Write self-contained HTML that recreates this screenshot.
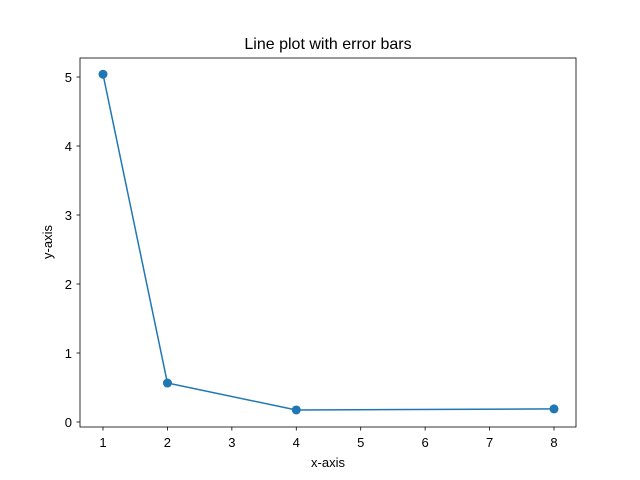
<!DOCTYPE html>
<html><head><meta charset="utf-8"><style>
body{margin:0;background:#fff;}
svg{display:block;font-family:"Liberation Sans","DejaVu Sans",sans-serif;}
</style></head><body>
<svg id="chart" width="640" height="480" xmlns="http://www.w3.org/2000/svg">
<rect width="640" height="480" fill="#fff"/>
<text x="328" y="49" text-anchor="middle" font-size="16">Line plot with error bars</text>
<g id="axes"></g>
<rect x="80" y="58" width="496" height="369" fill="none" stroke="#000" stroke-width="0.8"/>
<text x="328" y="467" text-anchor="middle" font-size="13">x-axis</text>
<text x="0" y="0" transform="translate(52,242) rotate(-90)" text-anchor="middle" font-size="13">y-axis</text>
</svg>
<script>
const xValues = [1, 2, 4, 8];
const yValues = [5.04, 0.565, 0.174, 0.19];
const xTicks = [1, 2, 3, 4, 5, 6, 7, 8];
const yTicks = [0, 1, 2, 3, 4, 5];

const NS = "http://www.w3.org/2000/svg";
const g = document.getElementById("axes");
const xs = v => 103 + (v - 1) * (451 / 7);
const ys = v => 422 - v * 69;
function mk(tag, attrs) {
  const e = document.createElementNS(NS, tag);
  for (const k in attrs) e.setAttribute(k, attrs[k]);
  g.appendChild(e);
  return e;
}
xTicks.forEach(t => {
  const l = mk("line", {x1: xs(t), x2: xs(t), y1: 427, y2: 430.5, stroke: "#000", "stroke-width": 0.8});
  
  
  const tx = mk("text", {x: xs(t), y: 447, "text-anchor": "middle", "font-size": 13});
  tx.textContent = t;
  
  
});
yTicks.forEach(t => {
  const l = mk("line", {x1: 76.5, x2: 80, y1: ys(t), y2: ys(t), stroke: "#000", "stroke-width": 0.8});
  
  
  const tx = mk("text", {x: 72, y: ys(t) + 5, "text-anchor": "end", "font-size": 13});
  tx.textContent = t;
  
  
});
const pts = xValues.map((x, i) => xs(x) + "," + ys(yValues[i])).join(" ");
const line = mk("polyline", {points: pts, fill: "none", stroke: "#1f77b4", "stroke-width": 1.5});


xValues.forEach((x, i) => {
  const c = mk("circle", {cx: xs(x), cy: ys(yValues[i]), r: 4.5, fill: "#1f77b4"});
  
  
});
</script>
</body></html>
